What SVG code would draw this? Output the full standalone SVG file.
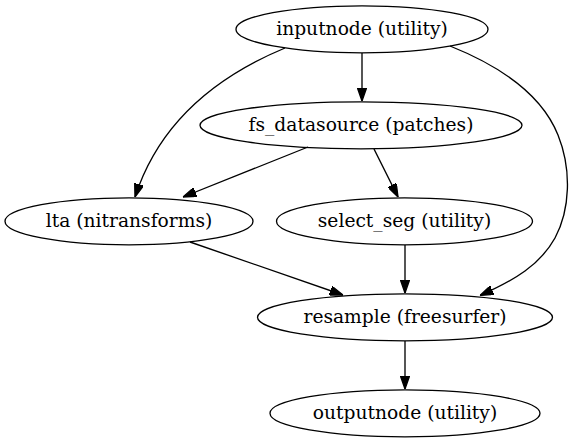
<svg xmlns="http://www.w3.org/2000/svg" width="573" height="443" viewBox="0 0 573 443">
<style>
.node ellipse{fill:none;stroke:#000;stroke-width:1.33}
.node text{font-family:"DejaVu Serif","Liberation Serif",serif;font-size:18.67px;text-anchor:middle;fill:#000}
.edges path{fill:none;stroke:#000;stroke-width:1.33}
</style>
<defs>
<marker id="arr" viewBox="0 0 10 7" refX="10" refY="3.5" markerWidth="13.3" markerHeight="9.3" markerUnits="userSpaceOnUse" orient="auto">
<path d="M0,0 L10,3.5 L0,7 z" fill="#000" stroke="#000" stroke-width="1"/>
</marker>
</defs>
<rect width="573" height="443" fill="#fff"/>
<g class="edges">
<path d="M362,53 L362,101" marker-end="url(#arr)"/>
<path d="M285,48 C220,75 160,120 135,197" marker-end="url(#arr)"/>
<path d="M450,46 C490,62 540,90 558,135 C572,170 570,210 555,238 C540,265 515,280 480,295.5" marker-end="url(#arr)"/>
<path d="M308,147 L183,197" marker-end="url(#arr)"/>
<path d="M374,149 L398,197" marker-end="url(#arr)"/>
<path d="M190,242 L343,295" marker-end="url(#arr)"/>
<path d="M405,245 L405,293" marker-end="url(#arr)"/>
<path d="M405,341 L405,389" marker-end="url(#arr)"/>
</g>
<g id="inputnode" class="node"><ellipse cx="362" cy="29.3" rx="126" ry="23.5"/><text x="362" y="35">inputnode (utility)</text></g>
<g id="fs_datasource" class="node"><ellipse cx="361" cy="125.3" rx="161" ry="23.5"/><text x="361" y="131">fs_datasource (patches)</text></g>
<g id="lta" class="node"><ellipse cx="129" cy="221.3" rx="124" ry="23.5"/><text x="129" y="227">lta (nitransforms)</text></g>
<g id="select_seg" class="node"><ellipse cx="404.5" cy="221.3" rx="128" ry="23.5"/><text x="404.5" y="227">select_seg (utility)</text></g>
<g id="resample" class="node"><ellipse cx="405" cy="317.3" rx="147.5" ry="23.5"/><text x="405" y="323">resample (freesurfer)</text></g>
<g id="outputnode" class="node"><ellipse cx="405" cy="413.3" rx="135" ry="23.5"/><text x="405" y="419">outputnode (utility)</text></g>
</svg>
